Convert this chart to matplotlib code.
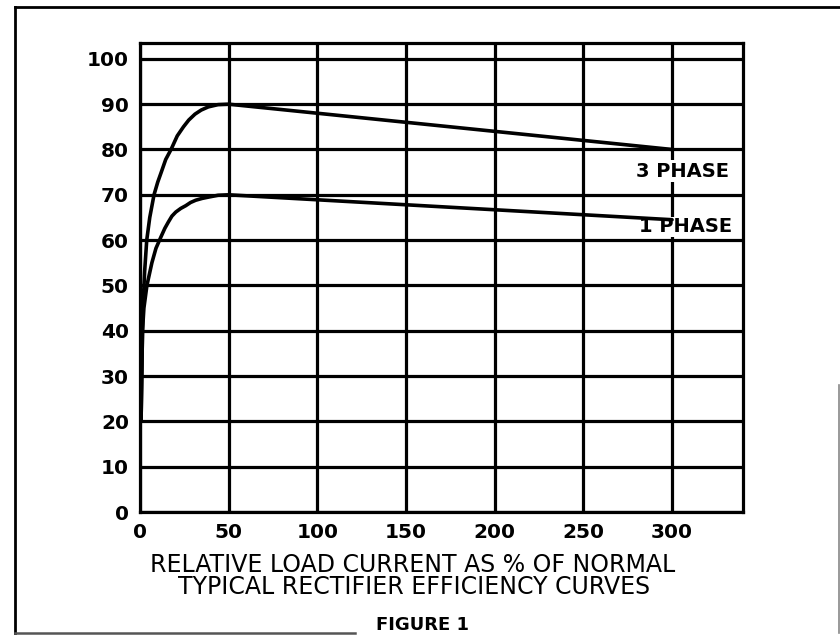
import matplotlib
matplotlib.use("Agg")
import matplotlib.pyplot as plt
from matplotlib.lines import Line2D

# Efficiency curves (load current % of normal, efficiency %)
load_3ph = [0.6, 1.0, 1.4, 1.9, 2.6, 3.8, 5.5, 7.9, 10.0, 12.0, 14.5, 17.5, 21.0, 24.5,
            27.5, 31.0, 34.5, 38.5, 44.0, 50.0, 300.0]
eff_3ph = [20.0, 30.0, 40.0, 47.0, 53.0, 60.0, 65.0, 70.0, 72.8, 75.0, 77.8, 80.0, 83.0, 85.0,
           86.5, 87.8, 88.7, 89.4, 89.9, 90.0, 80.0]

load_1ph = [0.6, 1.0, 1.4, 2.2, 3.9, 6.7, 9.0, 11.8, 14.0, 16.0, 18.0, 20.2, 23.0, 25.8,
            28.5, 31.4, 35.0, 38.7, 44.0, 50.0, 300.0]
eff_1ph = [20.0, 30.0, 40.0, 45.0, 50.0, 55.0, 58.2, 60.7, 62.6, 64.0, 65.3, 66.2, 67.0, 67.6,
           68.3, 68.8, 69.2, 69.5, 69.9, 70.0, 64.5]

x_ticks = [0, 50, 100, 150, 200, 250, 300]
y_ticks = [0, 10, 20, 30, 40, 50, 60, 70, 80, 90, 100]

label_3ph = "3 PHASE"
label_1ph = "1 PHASE"
xlabel_1 = "RELATIVE LOAD CURRENT AS % OF NORMAL"
xlabel_2 = "TYPICAL RECTIFIER EFFICIENCY CURVES"
caption = "FIGURE 1"

W, H = 840, 635
fig = plt.figure(figsize=(W / 100, H / 100), dpi=100)
fig.patch.set_facecolor("white")

def fx(px):
    return px / W

def fy(py):
    return 1 - py / H

ax = fig.add_axes([fx(140), fy(512), fx(743) - fx(140), fy(43) - fy(512)])
ax.set_xlim(0, 340)
ax.set_ylim(0, 103.5)

lw = 2.3
ax.set_xticks(x_ticks)
ax.set_yticks(y_ticks)
ax.set_xticklabels([str(v) for v in x_ticks])
ax.set_yticklabels([str(v) for v in y_ticks])
ax.grid(True, color="black", linewidth=lw)
ax.set_axisbelow(True)
for s in ax.spines.values():
    s.set_linewidth(lw)
    s.set_color("black")
ax.tick_params(axis="both", length=0, labelsize=14.5, colors="black")
ax.tick_params(axis="x", pad=8)
ax.tick_params(axis="y", pad=8)
for t in ax.get_xticklabels() + ax.get_yticklabels():
    t.set_fontweight("bold")

for xs, ys in ((load_3ph, eff_3ph), (load_1ph, eff_1ph)):
    ax.plot(xs, ys, color="black", linewidth=lw + 0.3, solid_capstyle="round",
            solid_joinstyle="round", zorder=5)

ax.text(332, 75.2, label_3ph, ha="right", va="center", fontsize=14, fontweight="bold",
        bbox=dict(facecolor="white", edgecolor="none", pad=1.0), zorder=4)
ax.text(334, 62.9, label_1ph, ha="right", va="center", fontsize=14, fontweight="bold",
        bbox=dict(facecolor="white", edgecolor="none", pad=0.3), zorder=4)

fig.text(fx(413), fy(565), xlabel_1, ha="center", va="center", fontsize=17)
fig.text(fx(414), fy(587), xlabel_2, ha="center", va="center", fontsize=17)
fig.text(fx(422), fy(634.5), caption, ha="center", va="bottom", fontsize=13, fontweight="bold")

# outer frame
frame = [
    ([15, 15], [7, 633], "black", 2.0),
    ([15, 840], [7, 7], "black", 2.0),
    ([15, 355], [633, 633], "#555555", 1.8),
    ([838.5, 838.5], [385, 633], "#888888", 1.2),
]
for xs, ys, c, w in frame:
    fig.add_artist(Line2D([fx(v) for v in xs], [fy(v) for v in ys], color=c, linewidth=w))

fig.savefig("out.png", dpi=100, facecolor="white")
